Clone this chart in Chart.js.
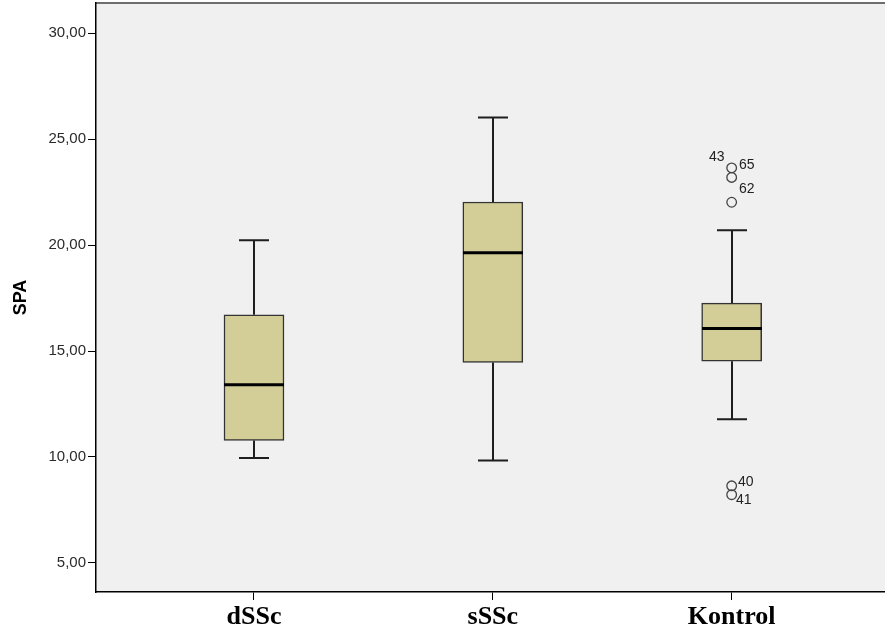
<!DOCTYPE html>
<html>
<head>
<meta charset="utf-8">
<script src="https://cdn.jsdelivr.net/npm/chart.js@4.4.1/dist/chart.umd.min.js"></script>
<style>
  html, body { margin: 0; padding: 0; background: #fff; }
  #wrap { width: 885px; height: 637px; }
</style>
</head>
<body>
<div id="wrap"><canvas id="chart" width="885" height="637"></canvas></div>
<script>
// groups
const categories = ['dSSc', 'sSSc', 'Kontrol'];

// box plot statistics per group (SPA)
const whiskerLow = [9.95, 9.83, 11.78];
const q1 = [10.78, 14.46, 14.52];
const median = [13.41, 19.64, 16.06];
const q3 = [16.71, 22.03, 17.26];
const whiskerHigh = [20.23, 26.02, 20.70];

// outliers (case numbers), all in Kontrol
const outlierGroup = [2, 2, 2, 2, 2];
const outlierValues = [23.64, 23.19, 22.02, 8.64, 8.22];
const outlierIds = ['43', '65', '62', '40', '41'];

const yTicks = [5, 10, 15, 20, 25, 30];

// where each case label sits next to its circle (px)
const labelOffsets = [[-15, -11], [15, -12], [15, -13], [14, -4], [12, 5]];

const boxWidth = 60;
const capWidth = 30;

const plotBg = {
  id: 'plotBg',
  beforeDraw(chart) {
    const { ctx, chartArea: a } = chart;
    ctx.save();
    ctx.fillStyle = '#f0f0f0';
    ctx.fillRect(a.left, a.top, a.right - a.left, a.bottom - a.top);
    ctx.strokeStyle = '#6e6e6e';
    ctx.lineWidth = 2;
    ctx.beginPath();
    ctx.moveTo(a.left, a.top);
    ctx.lineTo(a.right, a.top);
    ctx.stroke();
    ctx.restore();
  }
};

const boxExtras = {
  id: 'boxExtras',
  afterDatasetsDraw(chart) {
    const { ctx } = chart;
    const xs = chart.scales.x, ys = chart.scales.y;
    ctx.save();
    ctx.strokeStyle = '#1e1e1e';
    ctx.lineWidth = 2;
    categories.forEach((c, i) => {
      const x = Math.round(xs.getPixelForValue(i));
      const yLo = ys.getPixelForValue(whiskerLow[i]);
      const yQ1 = ys.getPixelForValue(q1[i]);
      const yQ3 = ys.getPixelForValue(q3[i]);
      const yHi = ys.getPixelForValue(whiskerHigh[i]);
      ctx.beginPath();
      ctx.moveTo(x, yLo); ctx.lineTo(x, yQ1);
      ctx.moveTo(x, yQ3); ctx.lineTo(x, yHi);
      ctx.moveTo(x - capWidth / 2, yLo); ctx.lineTo(x + capWidth / 2, yLo);
      ctx.moveTo(x - capWidth / 2, yHi); ctx.lineTo(x + capWidth / 2, yHi);
      ctx.stroke();
      const yMed = ys.getPixelForValue(median[i]);
      ctx.save();
      ctx.strokeStyle = '#000';
      ctx.lineWidth = 3;
      ctx.beginPath();
      ctx.moveTo(x - boxWidth / 2, yMed); ctx.lineTo(x + boxWidth / 2, yMed);
      ctx.stroke();
      ctx.restore();
    });
    // case labels
    ctx.fillStyle = '#222';
    ctx.font = '14px "Liberation Sans", Arial, sans-serif';
    ctx.textAlign = 'center';
    ctx.textBaseline = 'middle';
    outlierIds.forEach((id, k) => {
      const x = xs.getPixelForValue(outlierGroup[k]) + labelOffsets[k][0];
      const y = ys.getPixelForValue(outlierValues[k]) + labelOffsets[k][1];
      ctx.fillText(id, x, y);
    });
    ctx.restore();
  }
};

new Chart(document.getElementById('chart'), {
  type: 'bar',
  data: {
    datasets: [
      {
        type: 'bar',
        data: categories.map((c, i) => ({ x: i, y: [q1[i], q3[i]] })),
        backgroundColor: '#d3ce98',
        borderColor: '#333',
        borderWidth: 1.5,
        borderSkipped: false,
        barThickness: boxWidth
      },
      {
        type: 'scatter',
        data: outlierValues.map((v, k) => ({ x: outlierGroup[k], y: v })),
        pointStyle: 'circle',
        pointRadius: 4.8,
        backgroundColor: 'rgba(0,0,0,0)',
        borderColor: '#444',
        borderWidth: 1.3
      }
    ]
  },
  options: {
    responsive: false,
    animation: false,
    devicePixelRatio: 1,
    layout: { autoPadding: false, padding: { top: 3, right: 0, left: 0, bottom: 0 } },
    plugins: {
      legend: { display: false },
      tooltip: { enabled: false }
    },
    scales: {
      x: {
        type: 'linear',
        offset: false,
        min: -0.6615,
        max: 2.642,
        afterBuildTicks: s => { s.ticks = categories.map((c, i) => ({ value: i })); },
        afterFit: s => { s.height = 45; s.paddingLeft = 0; s.paddingRight = 0; },
        ticks: {
          callback: v => categories[v],
          font: { family: '"Liberation Serif", "Times New Roman", serif', size: 26, weight: 'bold' },
          color: '#000',
          padding: 2,
          maxRotation: 0
        },
        grid: { offset: false, drawOnChartArea: false, drawTicks: true, tickLength: 8, color: '#000' },
        border: { color: '#000', width: 1.5 }
      },
      y: {
        min: 3.63,
        max: 31.42,
        afterBuildTicks: s => { s.ticks = yTicks.map(v => ({ value: v })); },
        afterFit: s => { s.width = 96; s.paddingTop = 0; s.paddingBottom = 0; },
        ticks: {
          callback: v => v.toFixed(2).replace('.', ','),
          font: { family: '"Liberation Sans", Arial, sans-serif', size: 15 },
          color: '#2a2a2a',
          padding: 2
        },
        grid: { drawOnChartArea: false, drawTicks: true, tickLength: 8, color: '#000' },
        border: { color: '#000', width: 1.5 },
        title: {
          display: true,
          text: 'SPA',
          font: { family: '"Liberation Sans", Arial, sans-serif', size: 18, weight: 'bold' },
          color: '#000',
          padding: { top: 10, bottom: 0 }
        }
      }
    }
  },
  plugins: [plotBg, boxExtras]
});
</script>
</body>
</html>
